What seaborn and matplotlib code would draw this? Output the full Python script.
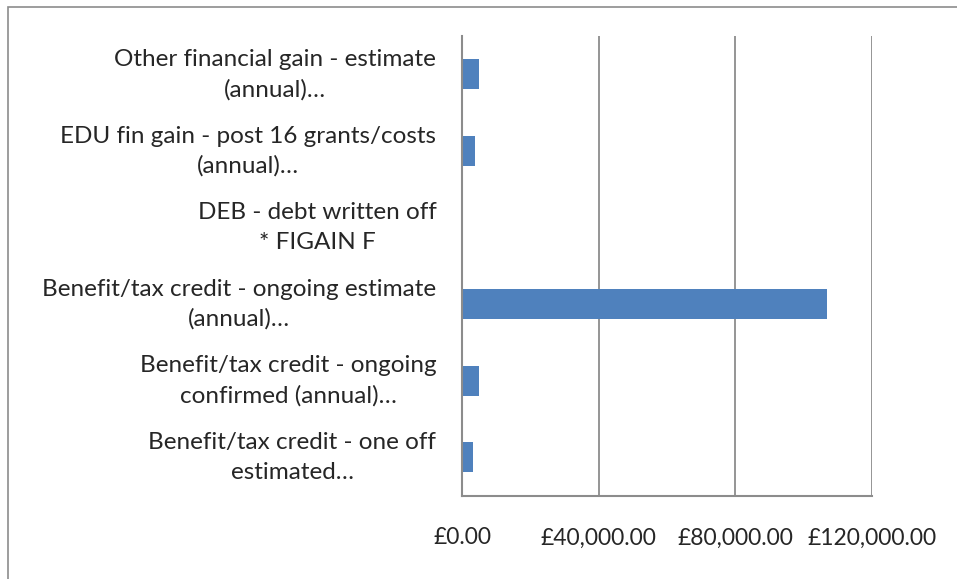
import matplotlib
matplotlib.use("Agg")
import matplotlib.pyplot as plt
import seaborn as sns
import pandas as pd
from matplotlib.ticker import FixedLocator, FuncFormatter
from matplotlib.patches import Rectangle
from matplotlib.transforms import ScaledTranslation

categories = [
    "Other financial gain - estimate\n(annual)…",
    "EDU fin gain - post 16 grants/costs\n(annual)…",
    "DEB - debt written off\n* FIGAIN F",
    "Benefit/tax credit - ongoing estimate\n(annual)…",
    "Benefit/tax credit - ongoing\nconfirmed (annual)…",
    "Benefit/tax credit - one off\nestimated…",
]
values = [5100, 3700, 0, 106800, 5100, 3300]
x_ticks = [0, 40000, 80000, 120000]

sns.set_style("white")
plt.rcParams['font.family'] = ['Lato', 'DejaVu Sans']

W, H = 957, 579
fig = plt.figure(figsize=(W / 100, H / 100), dpi=100)
ax = fig.add_axes([462 / W, 1 - 495.5 / H, 410 / W, (495.5 - 36) / H])

df = pd.DataFrame({"category": categories, "value": values})
sns.barplot(data=df, x="value", y="category", orient="h", color="#4F81BD",
            saturation=1, width=0.39, linewidth=0, ax=ax)

grey = "#8c8c8c"
ax.set_xlim(0, 120000)
ax.set_ylim(len(categories) - 0.5, -0.5)
ax.xaxis.set_major_locator(FixedLocator(x_ticks))
ax.xaxis.set_major_formatter(FuncFormatter(lambda v, p: f"£{v:,.2f}"))
ax.xaxis.grid(True, color=grey, lw=1.3)
ax.yaxis.grid(False)
ax.set_axisbelow(True)
ax.set_xlabel("")
ax.set_ylabel("")

for s in ["top", "right"]:
    ax.spines[s].set_visible(False)
for s in ["left", "bottom"]:
    ax.spines[s].set_color(grey)
    ax.spines[s].set_linewidth(1.5)

ax.yaxis.set_minor_locator(FixedLocator([i - 0.5 for i in range(len(categories) + 1)]))
ax.tick_params(axis="y", which="major", length=0, pad=18.5, labelsize=17.5)
ax.tick_params(axis="y", which="minor", length=6, width=1.3, color=grey, direction="out")
ax.tick_params(axis="x", which="major", length=6, width=1.3, color=grey, direction="out",
               pad=17, labelsize=16.5)
shift = ScaledTranslation(0, 6 / 100, fig.dpi_scale_trans)
for lbl in ax.get_yticklabels():
    lbl.set_multialignment("center")
    lbl.set_linespacing(1.5)
    lbl.set_transform(lbl.get_transform() + shift)

fig.add_artist(Rectangle((8 / W, -0.1), 1.2, 1 - 7 / H + 0.1, transform=fig.transFigure,
                         fill=False, edgecolor=grey, lw=1.2))

fig.savefig("out.png", dpi=100)
